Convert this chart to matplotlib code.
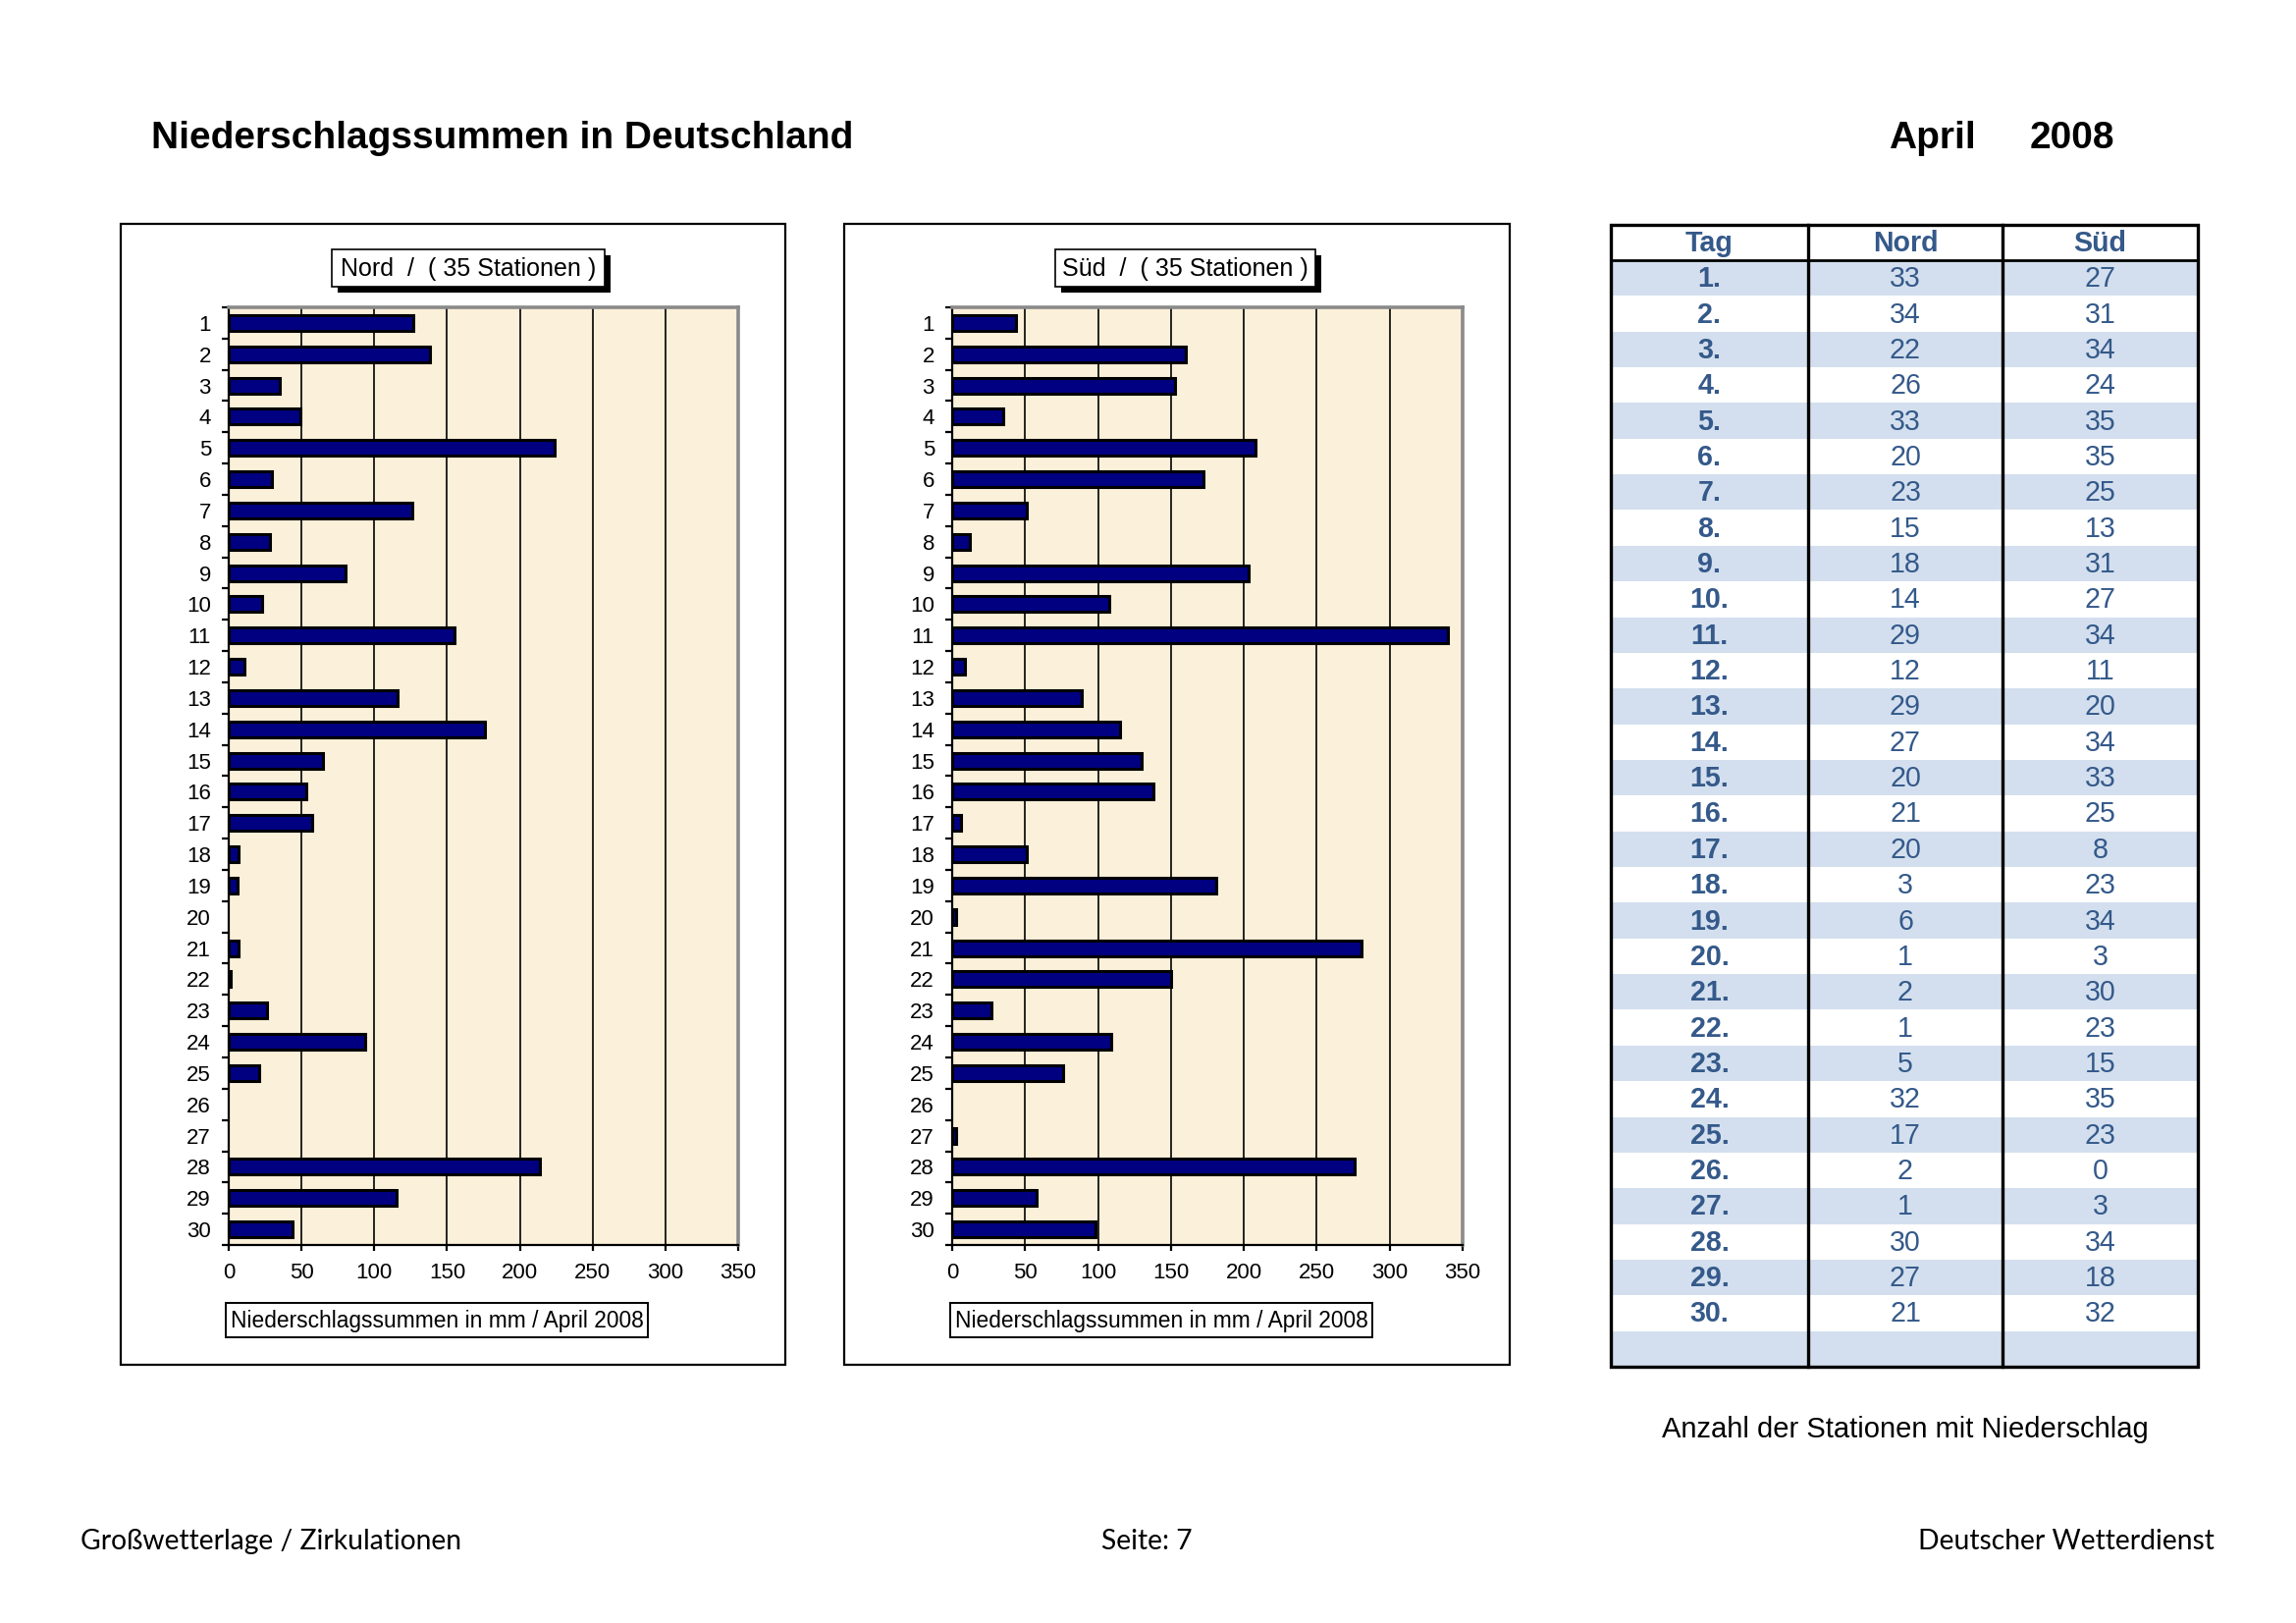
import matplotlib
matplotlib.use("Agg")
import matplotlib.pyplot as plt
from matplotlib.patches import Rectangle

plt.rcParams.update({
    "font.family": ["Liberation Sans", "DejaVu Sans"],
})

W, H = 2339, 1653
DPI = 200

# Tage des Monats
days = list(range(1, 31))

nord_mm = [127, 138, 35, 49, 224, 30, 126, 28, 80, 23,
           155, 11, 116, 176, 65, 53, 57, 7, 6, 0,
           7, 1.5, 26, 94, 21, 0, 0, 214, 115, 44]
sued_mm = [44, 160, 153, 35, 208, 172, 51, 12, 203, 108,
           340, 9, 89, 115, 130, 138, 6, 51, 181, 3,
           281, 150, 27, 109, 76, 0, 3, 276, 58, 98]

# Anzahl der Stationen mit Niederschlag
nord_stat = [33, 34, 22, 26, 33, 20, 23, 15, 18, 14,
             29, 12, 29, 27, 20, 21, 20, 3, 6, 1,
             2, 1, 5, 32, 17, 2, 1, 30, 27, 21]
sued_stat = [27, 31, 34, 24, 35, 35, 25, 13, 31, 27,
             34, 11, 20, 34, 33, 25, 8, 23, 34, 3,
             30, 23, 15, 35, 23, 0, 3, 34, 18, 32]

x_ticks = [0, 50, 100, 150, 200, 250, 300, 350]
table_head = ["Tag", "Nord", "Süd"]

BAR = "#000080"
PAPER = "#FBF0D9"
ROWBLUE = "#D3DFEE"
TXTBLUE = "#34598A"

fig = plt.figure(figsize=(W / DPI, H / DPI), dpi=DPI)
page = fig.add_axes([0, 0, 1, 1], zorder=0)
page.set_xlim(0, W)
page.set_ylim(H, 0)
page.axis("off")


def px_rect(x0, y0, x1, y1):
    return [x0 / W, 1 - y1 / H, (x1 - x0) / W, (y1 - y0) / H]


def draw_chart(box, plot, tbox, lbox, title, values):
    bx0, by0, bx1, by1 = box
    page.add_patch(Rectangle((bx0, by0), bx1 - bx0, by1 - by0,
                             fill=False, ec="black", lw=0.8))
    # Titelkasten mit Schatten
    tx0, ty0, tx1, ty1 = tbox
    page.add_patch(Rectangle((tx0 + 6, ty0 + 6), tx1 - tx0, ty1 - ty0,
                             fc="black", ec="none"))
    page.add_patch(Rectangle((tx0, ty0), tx1 - tx0, ty1 - ty0,
                             fc="white", ec="black", lw=0.6))
    page.text((tx0 + tx1) / 2, (ty0 + ty1) / 2 + 1, title,
              ha="center", va="center", fontsize=9)
    # Achsenbeschriftung im Kasten
    lx0, ly0, lx1, ly1 = lbox
    page.add_patch(Rectangle((lx0, ly0), lx1 - lx0, ly1 - ly0,
                             fc="white", ec="black", lw=0.7))
    page.text((lx0 + lx1) / 2, (ly0 + ly1) / 2 + 1,
              "Niederschlagssummen in mm / April 2008",
              ha="center", va="center", fontsize=8.2)

    ax = fig.add_axes(px_rect(*plot), zorder=2)
    ax.set_facecolor(PAPER)
    edge_w = [1.1 if v > 0 else 0 for v in values]
    ax.barh(days, values, height=0.5, color=BAR, edgecolor="black",
            linewidth=edge_w, zorder=3)
    ax.set_xlim(0, 350)
    ax.set_ylim(30.5, 0.5)
    ax.set_xticks(x_ticks)
    ax.set_yticks(days)
    ax.set_yticklabels([str(d) for d in days])
    ax.set_yticks([d + 0.5 for d in range(0, 31)], minor=True)
    ax.tick_params(axis="y", which="major", length=0, pad=6.5, labelsize=8)
    ax.tick_params(axis="y", which="minor", length=2.6, width=0.8,
                   direction="out")
    ax.tick_params(axis="x", length=2.0, width=0.8, pad=4.5, labelsize=8)
    ax.grid(axis="x", color="black", lw=0.6)
    ax.set_axisbelow(True)
    for s in ("top", "right"):
        ax.spines[s].set_color("#8a8a8a")
        ax.spines[s].set_linewidth(1.3)
    for s in ("left", "bottom"):
        ax.spines[s].set_linewidth(0.8)
    return ax


draw_chart((123, 228, 800, 1390), (233, 313, 752, 1268),
           (338, 254, 616, 292), (230, 1327, 660, 1362),
           "Nord  /  ( 35 Stationen )", nord_mm)
draw_chart((860, 228, 1538, 1390), (970, 313, 1490, 1268),
           (1075, 254, 1340, 292), (968, 1327, 1398, 1362),
           "Süd  /  ( 35 Stationen )", sued_mm)

# Tabelle
tab_x = [1641, 1842, 2040, 2239]
tab_top, head_bot = 229, 265
n_rows = len(days) + 1
row_h = (1392 - head_bot) / n_rows
for i in range(n_rows):
    y0 = head_bot + i * row_h
    if i % 2 == 0:
        page.add_patch(Rectangle((tab_x[0], y0), tab_x[3] - tab_x[0], row_h,
                                 fc=ROWBLUE, ec="none"))
    if i < len(days):
        yc = y0 + row_h / 2 + 1
        page.text((tab_x[0] + tab_x[1]) / 2, yc, f"{days[i]}.",
                  ha="center", va="center", fontsize=10.3, fontweight="bold",
                  color=TXTBLUE)
        page.text((tab_x[1] + tab_x[2]) / 2, yc, str(nord_stat[i]),
                  ha="center", va="center", fontsize=10.3, color=TXTBLUE)
        page.text((tab_x[2] + tab_x[3]) / 2, yc, str(sued_stat[i]),
                  ha="center", va="center", fontsize=10.3, color=TXTBLUE)
for j, name in enumerate(table_head):
    page.text((tab_x[j] + tab_x[j + 1]) / 2, (tab_top + head_bot) / 2 + 1,
              name, ha="center", va="center", fontsize=10.3, fontweight="bold",
              color=TXTBLUE)
tab_bot = head_bot + n_rows * row_h
page.add_patch(Rectangle((tab_x[0], tab_top), tab_x[3] - tab_x[0],
                         tab_bot - tab_top, fill=False, ec="black", lw=1.2))
for x in tab_x[1:3]:
    page.plot([x, x], [tab_top, tab_bot], color="black", lw=1.2)
page.plot([tab_x[0], tab_x[3]], [head_bot, head_bot], color="black", lw=1.0)

page.text(1941, 1456, "Anzahl der Stationen mit Niederschlag",
          ha="center", va="center", fontsize=10.5)

# Kopfzeile
page.text(154, 141, "Niederschlagssummen in Deutschland", fontsize=14,
          fontweight="bold", va="center")
page.text(1924, 141, "April", fontsize=14, fontweight="bold", va="center")
page.text(2068, 141, "2008", fontsize=14, fontweight="bold", va="center")

# Fusszeile
foot = dict(fontsize=10.2, family=["Lato", "DejaVu Sans"], va="center")
page.text(82, 1570, "Großwetterlage / Zirkulationen", ha="left", **foot)
page.text(1168, 1570, "Seite: 7", ha="center", **foot)
page.text(2256, 1570, "Deutscher Wetterdienst", ha="right", **foot)

fig.savefig("out.png", dpi=DPI)
